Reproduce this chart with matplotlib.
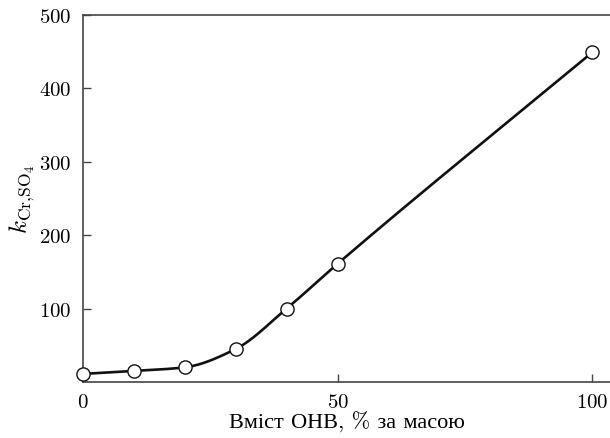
import numpy as np
import matplotlib
matplotlib.use("Agg")
import matplotlib.pyplot as plt

# data
ohv_content = [0, 10, 20, 30, 40, 50, 100]
k_values = [11, 15, 20, 45, 100, 161, 449]

x_ticks = [0, 50, 100]
y_ticks = [100, 200, 300, 400, 500]


def pchip(x, y, xs):
    """Monotone cubic (Fritsch-Carlson) through the points."""
    x = np.asarray(x, float)
    y = np.asarray(y, float)
    h = np.diff(x)
    d = np.diff(y) / h
    m = np.zeros_like(y)
    for i in range(1, len(x) - 1):
        if d[i - 1] * d[i] > 0:
            w1 = 2 * h[i] + h[i - 1]
            w2 = h[i] + 2 * h[i - 1]
            m[i] = (w1 + w2) / (w1 / d[i - 1] + w2 / d[i])
    m[0] = d[0]
    m[-1] = d[-1]
    out = np.empty_like(xs)
    for j, xv in enumerate(xs):
        i = min(np.searchsorted(x, xv, side="right") - 1, len(x) - 2)
        t = (xv - x[i]) / h[i]
        h00 = 2 * t**3 - 3 * t**2 + 1
        h10 = t**3 - 2 * t**2 + t
        h01 = -2 * t**3 + 3 * t**2
        h11 = t**3 - t**2
        out[j] = h00 * y[i] + h10 * h[i] * m[i] + h01 * y[i + 1] + h11 * h[i] * m[i + 1]
    return out


plt.rcParams["mathtext.fontset"] = "cm"
plt.rcParams["font.family"] = ["cmr10", "Liberation Serif"]
plt.rcParams["axes.formatter.use_mathtext"] = True

fig = plt.figure(figsize=(6.1, 4.39), dpi=100)
ax = fig.add_axes([0.136, 0.1276, 0.864, 0.836])

xs = np.linspace(0, 100, 400)
ax.plot(xs, pchip(ohv_content, k_values, xs), color="#111111", lw=1.9, zorder=2)
ax.plot(ohv_content, k_values, "o", ms=9.5, mfc="white", mec="#111111",
        mew=1.0, zorder=3, clip_on=False)

ax.set_xlim(0, 103.5)
ax.set_ylim(0, 500)
ax.set_xticks(x_ticks)
ax.set_yticks(y_ticks)

for s in ["left", "bottom", "top"]:
    ax.spines[s].set_color("#444444")
    ax.spines[s].set_linewidth(1.2)
ax.spines["right"].set_visible(False)

ax.tick_params(direction="in", length=6, width=1.0, color="#444444",
               labelsize=15, pad=8)

ax.set_xlabel("Вміст ОНВ, % за масою", fontsize=16, labelpad=0)
ax.set_ylabel(r"$k_{\mathrm{Cr{,}SO_4}}$", fontsize=18, labelpad=2)

fig.savefig("out.png", dpi=100)
